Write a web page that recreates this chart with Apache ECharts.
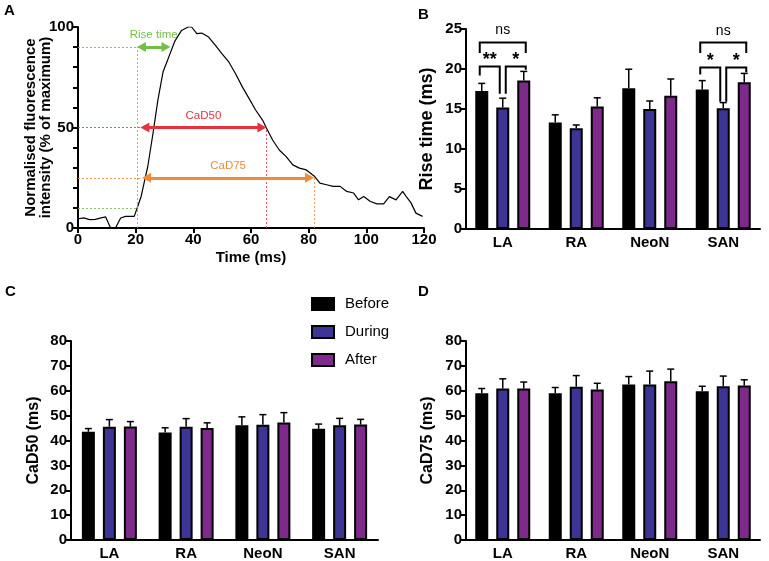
<!DOCTYPE html>
<html><head><meta charset="utf-8">
<script src="https://cdn.jsdelivr.net/npm/echarts@6/dist/echarts.min.js"></script>
<style>html,body{margin:0;padding:0;background:#fff}#c{width:769px;height:561px}</style>
</head><body><div id="c"></div>
<script>
// ---- Panel A: normalised fluorescence trace ----
const traceTime  = [0, 2, 4, 6, 8, 9.6, 11.3, 13, 14.8, 16.5, 19.5, 20.7, 21.9, 23, 24.2, 26, 27.7, 29.5, 31.2, 33.6, 35.9, 38.2, 39.4, 41.2, 42.9, 45.3, 47.6, 49.9, 52.3, 54.6, 57, 59.3, 61.6, 64, 65.7, 67.5, 69.8, 72.2, 74.5, 76.8, 79.2, 82.1, 83.9, 86.2, 88.5, 90.9, 93.2, 95.6, 97.3, 99.1, 101.4, 103.7, 106, 108, 110.3, 112.6, 113.8, 115.5, 117.2, 119.5];
const traceValue = [4.6, 5, 4.2, 4.3, 5, 5.5, 0, 0, 5, 5.8, 5.8, 10.7, 15.7, 23, 30.6, 47, 63.6, 77.7, 84, 93, 98.3, 100, 100, 96.7, 97, 95, 91, 86.8, 82.6, 76.9, 70.2, 64.5, 58.7, 53.7, 48.8, 43.8, 38.8, 35.5, 31.4, 29.8, 28.9, 25.6, 22.3, 21.5, 20.7, 20.7, 18.2, 17.4, 14, 15.7, 13.2, 12, 12, 15.6, 14, 18.2, 15.7, 12.5, 7.4, 5.8];
// annotation levels / times (data units)
const riseLevels = [10, 90];
const riseSpan = [20.5, 32];
const cad50Level = 50, cad50Span = [21.7, 65.3];
const cad75Level = 25, cad75Span = [22.3, 81.8];

// ---- Bar panels ----
const regions = ['LA', 'RA', 'NeoN', 'SAN'];
const groups = ['Before', 'During', 'After'];

const riseBefore = [17.25, 13.3, 17.6, 17.45];
const riseDuring = [15.2, 12.6, 15.0, 15.1];
const riseAfter  = [18.55, 15.3, 16.65, 18.35];
const riseBeforeSem = [0.95, 0.97, 2.37, 1.1];
const riseDuringSem = [1.15, 0.4, 1.0, 0.7];
const riseAfterSem  = [1.15, 1.1, 2.1, 1.1];

const cad50Before = [43.5, 43.2, 46.1, 44.7];
const cad50During = [45.5, 45.5, 46.3, 46.1];
const cad50After  = [45.6, 45.0, 47.2, 46.4];
const cad50BeforeSem = [1.3, 1.9, 3.4, 1.9];
const cad50DuringSem = [2.9, 3.3, 4.1, 2.8];
const cad50AfterSem  = [2.0, 2.1, 4.0, 2.1];

const cad75Before = [59.0, 59.0, 62.5, 59.8];
const cad75During = [60.9, 61.6, 62.5, 61.8];
const cad75After  = [60.9, 60.5, 63.8, 62.1];
const cad75BeforeSem = [1.9, 2.3, 3.2, 2.0];
const cad75DuringSem = [3.9, 4.5, 5.4, 4.1];
const cad75AfterSem  = [2.6, 2.5, 4.9, 2.3];

// significance brackets in panel B: [category, fromGroup, toGroup, barY, leftLegEnd, rightLegEnd, text, textY]
const sigBrackets = [
  [0, 0, 2, 23.3, 22.0, 22.0, 'ns', 24.85],
  [0, 0, 1, 20.3, 19.2, 16.9, '**', 21.6],
  [0, 1, 2, 20.3, 16.9, 19.9, '*', 21.6],
  [3, 0, 2, 23.3, 22.0, 22.0, 'ns', 24.7],
  [3, 0, 1, 20.2, 19.3, 15.9, '*', 21.5],
  [3, 1, 2, 20.2, 15.9, 19.6, '*', 21.5]
];

const FONT = '"Liberation Sans", Arial, Helvetica, sans-serif';
const COLORS = ['#000000', '#3c3595', '#7d2a8b'];
const GREEN = '#74bf45', RED = '#e6323c', ORANGE = '#f08b3a';
const BAR_W = 13, BAR_STEP = 21; // px

const axisLine = {show: true, onZero: false, lineStyle: {color: '#000', width: 2}};
const axisTick = {show: true, length: 5, lineStyle: {color: '#000', width: 2}};
const tickLabel = {color: '#000', fontWeight: 'bold', fontSize: 15, fontFamily: FONT, margin: 4};
const nameStyle = {color: '#000', fontWeight: 'bold', fontSize: 15, fontFamily: FONT};

function catAxis(gi) {
  return {type: 'category', gridIndex: gi, data: regions, axisLine: axisLine,
    axisTick: {show: false}, axisLabel: Object.assign({}, tickLabel, {margin: 6}), splitLine: {show: false}};
}
function valAxis(gi, max, interval, name, gap, nameSize) {
  return {type: 'value', gridIndex: gi, min: 0, max: max, interval: interval, axisLine: axisLine,
    axisTick: axisTick, axisLabel: tickLabel, splitLine: {show: false},
    name: name, nameLocation: 'middle', nameRotate: 90, nameGap: gap, nameMoveOverlap: false,
    nameTextStyle: Object.assign({}, nameStyle, {fontSize: nameSize || 15})};
}

function errRender(k) {
  return function (params, api) {
    const c = api.value(0);
    const p0 = api.coord([c, api.value(1)]);
    const p1 = api.coord([c, api.value(2)]);
    const x = p0[0] + (k - 1) * BAR_STEP;
    return {type: 'group', children: [
      {type: 'line', shape: {x1: x, y1: p0[1], x2: x, y2: p1[1]}, style: {stroke: '#000', lineWidth: 1.5}},
      {type: 'line', shape: {x1: x - 3.5, y1: p1[1], x2: x + 3.5, y2: p1[1]}, style: {stroke: '#000', lineWidth: 1.5}}
    ]};
  };
}

function barPanel(gi, means, sems) {
  const out = [];
  groups.forEach((g, k) => {
    out.push({type: 'bar', name: g, xAxisIndex: gi, yAxisIndex: gi, data: means[k],
      barWidth: BAR_W, barGap: ((BAR_STEP - BAR_W) / BAR_W * 100).toFixed(1) + '%',
      itemStyle: {color: COLORS[k], borderColor: '#000', borderWidth: 2}});
  });
  groups.forEach((g, k) => {
    out.push({type: 'custom', xAxisIndex: gi, yAxisIndex: gi, renderItem: errRender(k),
      data: means[k].map((m, i) => [i, m, m + sems[k][i]]), encode: {x: 0, y: [1, 2]}, z: 3});
  });
  return out;
}

function bracketRender(params, api) {
  const b = sigBrackets[params.dataIndex];
  const cat = b[0], from = b[1], to = b[2];
  const base = api.coord([cat, b[3]]);
  const cx = base[0];
  const xl = cx + (from - 1) * BAR_STEP + (from === 1 ? 3 : -2);
  const xr = cx + (to - 1) * BAR_STEP + (to === 1 ? -3 : 2);
  const yl = api.coord([cat, b[4]])[1];
  const yr = api.coord([cat, b[5]])[1];
  const ty = api.coord([cat, b[7]])[1];
  const isStar = b[6] !== 'ns';
  return {type: 'group', children: [
    {type: 'polyline', shape: {points: [[xl, yl], [xl, base[1]], [xr, base[1]], [xr, yr]]},
      style: {stroke: '#000', lineWidth: 2, fill: null}},
    {type: 'text', x: (xl + xr) / 2, y: ty + (isStar ? 4 : 0),
      style: {text: b[6], textAlign: 'center', textVerticalAlign: 'middle', fill: '#000',
        font: (isStar ? 'bold 18px ' : '14px ') + FONT}}
  ]};
}

const dotted = (c) => ({color: c, width: 1, type: [2, 2], opacity: 0.85});
const arrow = (c) => ({color: c, width: 3, type: 'solid'});
function mlLabel(text, c) {
  return {show: true, formatter: text, position: 'insideMiddleTop', distance: 6, color: c, fontSize: 11.5, fontFamily: FONT};
}

const markData = [
  [{coord: [0, riseLevels[1]], lineStyle: dotted(GREEN)}, {coord: [riseSpan[0], riseLevels[1]]}],
  [{coord: [0, riseLevels[0]], lineStyle: dotted(GREEN)}, {coord: [riseSpan[0], riseLevels[0]]}],
  [{coord: [riseSpan[0], 0], lineStyle: dotted(GREEN)}, {coord: [riseSpan[0], riseLevels[1]]}],
  [{coord: [0, cad50Level], lineStyle: dotted(RED)}, {coord: [cad50Span[0], cad50Level]}],
  [{coord: [cad50Span[1], 0], lineStyle: dotted(RED)}, {coord: [cad50Span[1], cad50Level]}],
  [{coord: [0, cad75Level], lineStyle: dotted(ORANGE)}, {coord: [cad75Span[0], cad75Level]}],
  [{coord: [cad75Span[1], 0], lineStyle: dotted(ORANGE)}, {coord: [cad75Span[1], cad75Level]}],
  [{coord: [riseSpan[0] + 1.5, riseLevels[1]], symbol: 'triangle', symbolSize: [10, 9], lineStyle: arrow(GREEN), itemStyle: {color: GREEN}, label: mlLabel('Rise time', GREEN)},
   {coord: [riseSpan[1] - 1.5, riseLevels[1]], symbol: 'triangle', symbolSize: [10, 9], itemStyle: {color: GREEN}}],
  [{coord: [cad50Span[0] + 1.5, cad50Level], symbol: 'triangle', symbolSize: [10, 9], lineStyle: arrow(RED), itemStyle: {color: RED}, label: mlLabel('CaD50', RED)},
   {coord: [cad50Span[1] - 1.5, cad50Level], symbol: 'triangle', symbolSize: [10, 9], itemStyle: {color: RED}}],
  [{coord: [cad75Span[0] + 1.5, cad75Level], symbol: 'triangle', symbolSize: [10, 9], lineStyle: arrow(ORANGE), itemStyle: {color: ORANGE}, label: mlLabel('CaD75', ORANGE)},
   {coord: [cad75Span[1] - 1.5, cad75Level], symbol: 'triangle', symbolSize: [10, 9], itemStyle: {color: ORANGE}}]
];

const panelLabel = (t, x, y) => ({type: 'text', left: x, top: y, style: {text: t, font: 'bold 15px ' + FONT, fill: '#000'}});

const option = {
  animation: false,
  backgroundColor: '#fff',
  textStyle: {fontFamily: FONT},
  graphic: [panelLabel('A', 4, 3), panelLabel('B', 418, 7), panelLabel('C', 5, 284), panelLabel('D', 418, 284)],
  legend: {data: groups, orient: 'vertical', left: 306, top: 291, itemWidth: 22, itemHeight: 12, itemGap: 12,
    icon: 'rect', textStyle: {color: '#000', fontSize: 15, fontFamily: FONT, lineHeight: 16, padding: [0, 0, 0, 6]}},
  grid: [
    {left: 78, top: 27, width: 346, height: 201},
    {left: 466, top: 29, width: 294, height: 200},
    {left: 71, top: 341, width: 307, height: 201},
    {left: 466, top: 341, width: 294, height: 201}
  ],
  xAxis: [
    {type: 'value', gridIndex: 0, min: 0, max: 120, interval: 20, axisLine: axisLine, axisTick: axisTick,
      axisLabel: tickLabel, splitLine: {show: false}, name: 'Time (ms)', nameLocation: 'middle', nameGap: 22,
      nameMoveOverlap: false, nameTextStyle: nameStyle},
    catAxis(1), catAxis(2), catAxis(3)
  ],
  yAxis: [
    Object.assign(valAxis(0, 100, 10, 'Normalised fluorescence\nintensity (% of maximum)', 25),
      {axisLabel: Object.assign({}, tickLabel, {formatter: v => (v % 50 === 0 ? String(v) : '')})}),
    valAxis(1, 25, 5, 'Rise time (ms)', 30, 18),
    valAxis(2, 80, 10, 'CaD50 (ms)', 29, 16),
    valAxis(3, 80, 10, 'CaD75 (ms)', 30, 16)
  ],
  series: [
    {type: 'line', xAxisIndex: 0, yAxisIndex: 0, data: traceTime.map((t, i) => [t, traceValue[i]]),
      showSymbol: false, symbol: 'none', lineStyle: {color: '#000', width: 1.2}, z: 3,
      markLine: {silent: true, animation: false, symbol: ['none', 'none'], label: {show: false}, data: markData}},
    ...barPanel(1, [riseBefore, riseDuring, riseAfter], [riseBeforeSem, riseDuringSem, riseAfterSem]),
    {type: 'custom', xAxisIndex: 1, yAxisIndex: 1, renderItem: bracketRender,
      data: sigBrackets.map(b => [b[0], b[3]]), encode: {x: 0, y: 1}, z: 4},
    ...barPanel(2, [cad50Before, cad50During, cad50After], [cad50BeforeSem, cad50DuringSem, cad50AfterSem]),
    ...barPanel(3, [cad75Before, cad75During, cad75After], [cad75BeforeSem, cad75DuringSem, cad75AfterSem])
  ]
};

const chart = echarts.init(document.getElementById('c'), null, {renderer: 'canvas'});
chart.setOption(option);
</script>
</body></html>
